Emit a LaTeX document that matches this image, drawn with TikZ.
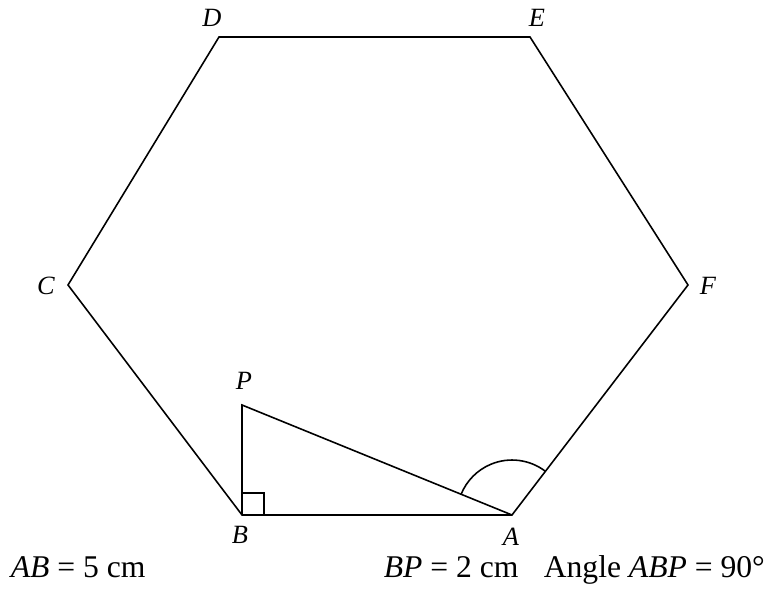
\documentclass[tikz,border=0pt]{standalone}
\usepackage{fontspec}
\setmainfont{Liberation Serif}
\usetikzlibrary{calc}

\begin{document}
\begin{tikzpicture}[x=0.02cm,y=0.02cm,line width=0.9pt,
    vlabel/.style={font=\fontsize{15}{17}\selectfont\itshape,inner sep=0pt},
    info/.style={font=\fontsize{18}{20}\selectfont,anchor=base west,inner sep=0pt}]
                \useasboundingbox (0,0) rectangle (767,594);
                % Vertices of the hexagon
                \coordinate (A) at (512,79);
                \coordinate (B) at (242,79);
                \coordinate (C) at (68,309);
                \coordinate (D) at (219,557);
                \coordinate (E) at (530,557);
                \coordinate (F) at (688,309);
                \coordinate (P) at (242,189);

                % Hexagon and triangle
                \draw (A) -- (B) -- (C) -- (D) -- (E) -- (F) -- cycle;
                \draw (B) -- (P) -- (A);

                % Right angle at B
                \draw ($(B)+(0,22)$) -| ($(B)+(22,0)$);

                % Angle at A
                \draw ($(A)!1.1cm!(F)$) arc[start angle=52.6,end angle=157.8,radius=1.1cm];

                % Labels
                \node[vlabel] (lA) at (511,57) {A};
                \node[vlabel] (lB) at (240,59) {B};
                \node[vlabel] (lC) at (46,308) {C};
                \node[vlabel] (lD) at (212,576) {D};
                \node[vlabel] (lE) at (537,576) {E};
                \node[vlabel] (lF) at (708,308) {F};
                \node[vlabel] (lP) at (244,213) {P};

                % Given information
                \node[info] (ab) at (10,16) {\textit{AB} = 5 cm};
                \node[info] (bp) at (383,16) {\textit{BP} = 2 cm};
                \node[info] (ang) at (543,16) {Angle \textit{ABP} = 90°};
            \end{tikzpicture}
\end{document}
